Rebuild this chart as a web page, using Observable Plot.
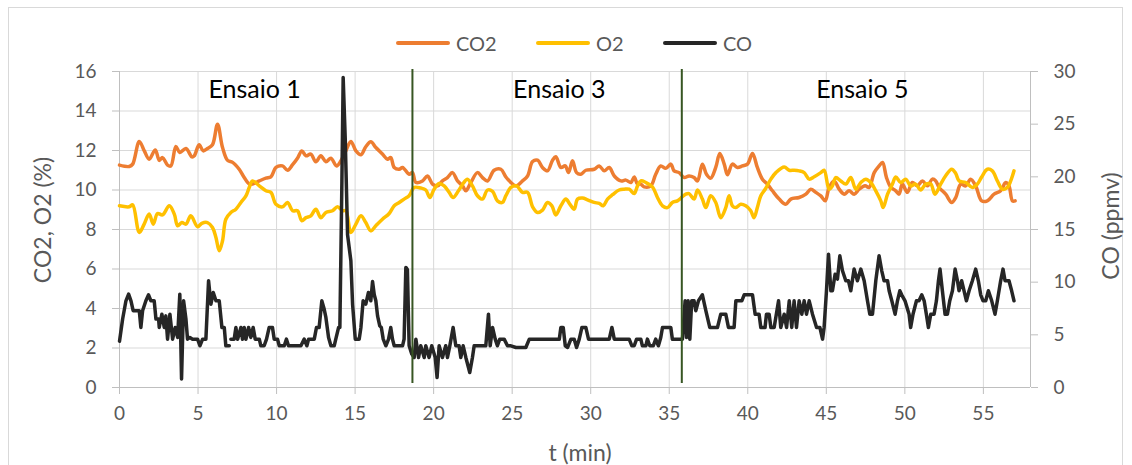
<!DOCTYPE html>
<html>
<head>
<meta charset="utf-8">
<script src="https://cdn.jsdelivr.net/npm/d3@7"></script>
<script src="https://cdn.jsdelivr.net/npm/@observablehq/plot@0.6"></script>
<style>
  html, body { margin: 0; padding: 0; background: #fff; }
  #wrap { position: relative; width: 1132px; height: 465px; overflow: hidden; font-family: Lato, "Open Sans", sans-serif; }
  #frame { position: absolute; left: 8px; top: 7px; width: 1115px; height: 480px; border: 1px solid #d9d9d9; box-sizing: border-box; }
  #chart { position: absolute; left: 0; top: 0; }
  .lg { position: absolute; top: 31px; height: 24px; display: flex; align-items: center; font-size: 20px; color: #595959; }
  .lg span.sw { display: inline-block; width: 54px; height: 4px; border-radius: 2px; margin-right: 6px; }
  .ttl { position: absolute; font-size: 23px; color: #595959; white-space: nowrap; }
</style>
</head>
<body>
<div id="wrap">
  <div id="frame"></div>
  <div id="chart"></div>
</div>
<script>
// ---- Data ----
const co2T = [0,0.62,0.84,1.26,1.58,1.89,2.28,2.53,2.74,3.06,3.27,3.59,3.84,4.23,4.61,4.76,5.07,5.33,5.6,5.92,6.24,6.56,6.88,7.2,7.62,7.94,8.26,8.47,8.9,9.32,9.64,9.96,10.38,10.7,11.02,11.33,11.61,11.87,12.18,12.5,12.82,13.14,13.46,13.82,14.09,14.41,14.73,15.05,15.37,15.68,16.0,16.32,16.74,17.06,17.27,17.49,17.81,18.02,18.44,18.65,18.87,19.29,19.61,19.93,20.25,20.56,20.88,21.2,21.52,21.84,22.05,22.37,22.79,23.11,23.43,23.85,24.28,24.6,24.92,25.24,25.66,25.98,26.3,26.62,26.93,27.25,27.57,27.78,28.1,28.38,28.59,28.84,29.1,29.37,29.69,30.22,30.54,30.86,31.18,31.5,31.92,32.24,32.56,32.77,32.98,33.19,33.4,33.83,34.14,34.46,34.78,35.1,35.31,35.63,35.95,36.26,36.58,36.8,37.11,37.37,37.64,37.96,38.22,38.5,38.71,39.02,39.34,39.66,39.98,40.3,40.61,40.93,41.25,41.57,42.0,42.42,42.74,43.27,43.7,44.01,44.33,44.65,44.93,45.18,45.5,45.82,46.14,46.45,46.77,47.09,47.47,47.73,48.05,48.36,48.58,48.83,49.11,49.42,49.63,49.84,50.16,50.48,50.8,51.12,51.44,51.75,51.97,52.18,52.6,52.98,53.24,53.56,53.88,54.19,54.51,54.89,55.25,55.68,56.1,56.42,56.63,56.85,57.02];
const co2V = [11.26,11.19,11.31,12.46,11.98,11.56,12.03,11.5,11.64,11.26,11.22,12.2,11.9,12.1,11.68,11.73,12.29,11.98,12.1,12.29,13.33,12.15,11.5,11.4,11.05,10.63,10.3,10.3,10.46,10.6,10.67,11.14,11.22,11.0,11.28,11.61,11.98,11.73,11.82,11.43,11.73,11.43,11.61,11.22,11.47,11.98,12.46,11.98,11.78,12.19,12.44,12.15,11.82,11.56,11.64,11.14,11.05,11.14,10.8,10.88,10.38,10.46,10.71,10.3,10.21,10.46,10.63,10.88,10.46,10.21,9.96,10.38,10.88,10.63,10.46,11.0,11.05,10.66,10.38,10.21,10.46,10.71,11.44,11.51,11.14,10.97,11.51,11.68,11.14,11.22,10.88,11.48,10.88,10.8,11.0,11.05,11.22,10.97,11.14,10.71,10.46,10.5,10.38,10.66,10.3,10.3,10.16,10.21,10.8,11.22,11.1,11.31,10.97,10.88,10.63,10.71,10.63,10.46,11.31,10.8,10.6,11.14,11.85,11.31,10.77,11.31,11.14,11.22,11.31,11.85,11.14,10.55,10.3,9.96,9.54,9.28,9.54,9.62,9.79,10.04,9.88,9.7,9.45,10.13,10.46,10.04,9.79,9.96,9.79,10.04,10.21,10.13,10.88,11.22,11.39,10.63,10.13,9.96,9.79,10.3,9.88,10.38,10.21,10.46,10.21,10.55,10.46,10.13,9.79,9.37,9.62,10.3,10.21,10.55,10.21,9.45,9.45,9.79,9.96,10.38,10.21,9.45,9.45];

const o2T = [0,0.62,0.84,1.26,1.57,1.89,2.15,2.42,2.74,3.17,3.49,3.7,3.97,4.23,4.54,4.97,5.24,5.6,5.92,6.14,6.35,6.56,6.77,7.09,7.41,7.73,8.05,8.26,8.47,8.9,9.32,9.64,9.96,10.38,10.7,11.02,11.33,11.61,11.87,12.18,12.5,12.82,13.14,13.56,13.88,14.2,14.41,14.73,15.05,15.37,15.68,16.0,16.32,16.74,17.17,17.49,17.81,18.12,18.44,18.76,19.18,19.5,19.76,20.03,20.35,20.67,20.99,21.24,21.58,21.88,22.15,22.47,22.79,23.11,23.43,23.75,24.06,24.38,24.6,24.92,25.28,25.66,25.98,26.3,26.62,26.93,27.25,27.53,27.78,28.1,28.42,28.67,28.95,29.16,29.48,29.8,30.22,30.54,30.8,31.07,31.39,31.81,32.13,32.45,32.77,32.98,33.19,33.51,33.93,34.25,34.57,34.89,35.2,35.52,35.84,36.05,36.26,36.58,36.8,37.11,37.33,37.64,37.96,38.28,38.6,38.81,39.02,39.24,39.55,39.87,40.19,40.4,40.61,40.83,41.12,41.47,41.79,42.32,42.64,42.95,43.27,43.59,43.91,44.23,44.65,44.86,45.18,45.39,45.6,45.92,46.24,46.56,46.88,47.2,47.52,47.83,48.15,48.47,48.62,48.9,49.21,49.42,49.74,50.06,50.37,50.69,51.01,51.33,51.65,51.92,52.28,52.6,52.98,53.24,53.45,53.88,54.3,54.62,54.89,55.25,55.57,55.89,56.21,56.53,56.74,56.95];
const o2V = [9.2,9.15,9.25,7.85,8.27,8.78,8.27,8.81,8.74,9.2,8.78,8.19,8.35,8.27,8.69,8.14,8.31,8.35,8.1,7.6,6.92,7.43,8.52,8.86,9.03,9.37,9.7,10.13,10.46,10.21,9.96,9.88,9.28,9.15,9.37,8.95,8.95,8.44,8.6,8.69,9.03,8.6,8.86,8.95,9.15,8.95,8.95,7.85,8.27,8.69,8.35,7.93,8.19,8.52,8.81,9.2,9.37,9.54,9.71,10.13,10.1,10.0,9.62,10.04,10.33,10.21,9.88,9.62,9.96,10.33,10.55,10.21,9.71,9.54,10.0,9.93,9.45,9.37,9.71,10.13,10.21,9.88,9.88,9.15,8.86,8.98,9.37,9.2,8.74,9.2,9.54,9.28,9.03,9.54,9.59,9.5,9.37,9.32,9.2,9.54,9.76,10.0,10.04,10.04,9.82,10.21,10.46,10.38,10.16,9.62,9.2,9.11,9.37,9.45,9.66,9.79,9.82,9.54,10.0,9.54,9.11,9.71,9.37,8.6,9.11,9.71,9.2,9.11,9.28,9.2,8.95,8.6,9.11,9.71,10.05,10.55,10.88,11.17,11.0,11.0,10.97,10.88,10.55,10.67,10.88,11.0,10.04,10.21,10.63,10.46,10.3,10.63,10.04,10.38,10.55,10.38,9.96,9.45,9.11,9.79,10.3,10.66,10.38,10.55,10.21,10.3,10.0,10.3,10.3,9.79,10.3,10.72,11.05,10.84,10.46,10.38,10.13,10.3,10.66,11.05,10.97,10.46,10.04,10.13,10.46,10.97];

const coT = [0,0.2,0.41,0.58,0.73,0.87,1.26,1.36,1.47,1.68,1.85,2.0,2.21,2.32,2.49,2.53,2.7,2.85,2.95,3.06,3.21,3.38,3.55,3.7,3.84,3.95,4.08,4.23,4.33,4.48,4.65,4.97,5.12,5.29,5.5,5.67,5.82,5.97,6.14,6.35,6.52,6.67,6.77,6.99,7.04,7.09,7.3,7.41,7.52,7.73,7.83,7.94,8.05,8.22,8.36,8.51,8.64,8.9,9.0,9.21,9.36,9.53,9.74,9.85,10.06,10.17,10.49,10.63,10.76,11.55,11.76,11.93,12.04,12.4,12.54,12.71,12.88,13.03,13.14,13.31,13.46,13.67,13.77,13.95,14.03,14.16,14.24,14.37,14.52,14.73,14.84,15.01,15.26,15.37,15.51,15.68,15.85,16.0,16.11,16.22,16.32,16.43,16.57,16.67,16.79,16.96,17.13,17.27,17.38,17.49,17.81,18.02,18.12,18.23,18.33,18.44,18.61,18.76,18.87,19.04,19.18,19.4,19.5,19.71,19.88,20.1,20.22,20.35,20.56,20.77,20.88,21.03,21.24,21.41,21.62,21.73,21.88,22.05,22.3,22.47,22.58,23.11,23.32,23.49,23.6,23.75,23.92,24.06,24.21,24.49,24.7,24.92,25.24,25.87,26.09,28.0,28.1,28.25,28.38,28.53,28.74,28.95,29.1,29.27,29.44,29.69,29.86,31.18,31.35,31.5,32.45,32.62,32.77,32.92,33.19,33.29,33.51,33.61,33.76,33.98,34.14,34.31,34.46,34.57,35.1,35.2,35.84,36.01,36.1,36.2,36.31,36.43,36.58,36.69,36.86,37.11,37.33,37.58,38.07,38.28,38.6,38.77,39.13,39.24,39.62,39.77,40.3,40.47,40.72,40.83,41.1,41.19,41.36,41.47,41.68,41.96,42.1,42.32,42.47,42.64,42.8,42.95,43.1,43.27,43.44,43.59,43.74,43.91,44.12,44.38,44.59,44.76,44.86,45.01,45.14,45.29,45.39,45.56,45.71,45.86,46.03,46.24,46.41,46.56,46.77,46.98,47.2,47.41,47.62,47.77,47.94,48.15,48.36,48.53,48.68,48.9,49.0,49.17,49.38,49.53,49.68,49.8,50.01,50.27,50.37,50.52,50.74,50.9,51.08,51.23,51.37,51.5,51.65,51.86,52.01,52.14,52.24,52.39,52.56,52.71,52.86,53.03,53.2,53.35,53.45,53.62,53.77,53.92,54.09,54.3,54.51,54.68,54.83,54.98,55.15,55.32,55.53,55.74,55.89,56.1,56.25,56.38,56.63,56.8,56.95];
const coV = [4.4,6.5,8.23,8.86,8.23,7.29,7.29,5.7,7.29,8.23,8.8,8.23,8.23,6.5,6.5,5.7,6.96,5.7,6.8,4.59,6.96,4.59,5.7,4.75,8.86,0.8,8.23,6.5,4.59,4.75,4.59,4.59,3.96,4.59,4.59,10.13,7.91,9.02,8.23,8.23,5.7,5.7,3.96,3.96,NaN,4.59,4.59,5.7,4.59,5.7,4.59,5.7,4.59,5.7,4.75,5.7,4.59,4.59,3.96,3.96,4.59,5.7,5.7,4.59,4.59,3.96,3.96,4.59,3.96,3.96,4.59,3.96,4.59,4.59,5.7,5.7,8.23,7.45,6.65,4.75,3.96,3.96,4.59,5.7,5.7,19.6,29.43,23.7,14.5,12.03,7.9,4.59,4.59,5.7,8.23,7.91,9.02,8.23,10.06,8.8,8.23,6.8,5.85,5.7,4.59,3.96,4.59,5.7,4.59,3.96,3.96,3.96,4.59,11.4,11.2,3.96,3.17,2.85,4.59,2.85,3.96,2.85,3.96,2.85,3.96,2.85,0.95,3.96,2.85,3.96,2.85,3.96,5.7,3.96,3.96,2.85,3.96,2.85,1.42,2.85,3.96,3.96,3.96,6.96,3.96,5.7,4.59,3.96,4.59,4.59,3.96,3.96,3.8,3.8,4.59,4.59,5.7,5.7,3.96,3.8,4.59,4.59,3.8,4.59,5.7,5.7,4.59,4.59,5.7,4.59,4.59,3.96,3.96,4.59,4.59,3.96,3.96,4.59,3.96,3.96,4.59,3.96,4.75,5.7,5.7,4.59,4.59,8.23,4.75,8.23,4.59,8.23,8.23,7.29,8.23,8.8,7.29,5.7,5.7,6.96,6.96,5.7,5.7,8.23,8.23,8.8,8.8,6.96,6.96,5.7,5.7,6.96,6.96,5.7,5.7,8.23,5.7,6.96,5.7,8.23,5.7,8.23,5.7,8.23,6.96,8.23,6.96,8.23,6.96,5.7,5.7,4.59,5.7,9.18,12.66,9.18,9.18,10.76,10.29,12.5,11.08,10.13,10.13,9.18,11.24,10.13,11.24,10.13,8.23,6.96,6.96,10.13,12.5,11.08,10.13,10.13,9.18,8.23,6.96,8.23,9.18,8.8,8.23,6.96,5.7,6.96,8.23,8.23,8.8,8.23,6.96,5.7,6.96,6.96,8.23,10.13,11.24,9.18,6.96,6.96,8.23,9.18,11.24,10.13,9.18,10.13,9.18,8.23,9.18,10.13,11.24,10.13,8.8,8.23,8.23,9.18,8.23,6.96,8.23,10.13,11.24,10.13,10.13,9.18,8.23];

const ensaioT = [8.6, 28.0, 47.3];
const ensaioLabels = ["Ensaio 1", "Ensaio 3", "Ensaio 5"];
const ensaioY = 15.07;
const dividers = [18.65, 35.8];

const xTicks = d3.range(0, 56, 5);
const leftTicks = d3.range(0, 17, 2);
const rightTicks = d3.range(0, 31, 5);

const X_MAX = 58, Y_MAX = 16, CO_MAX = 30;
const toLeft = v => v * Y_MAX / CO_MAX;

const co2 = co2T.map((t, i) => ({t, v: co2V[i]}));
const o2 = o2T.map((t, i) => ({t, v: o2V[i]}));
const co = coT.map((t, i) => ({t, v: coV[i]}));
const ensaio = ensaioT.map((t, i) => ({t, y: ensaioY, label: ensaioLabels[i]}));

const axisCol = "#bfbfbf", gridCol = "#d9d9d9", textCol = "#595959";

const chart = Plot.plot({
  width: 1132,
  height: 465,
  marginLeft: 119,
  marginRight: 102,
  marginTop: 71,
  marginBottom: 78,
  style: { fontFamily: "Lato, 'Open Sans', sans-serif", background: "transparent" },
  x: { domain: [0, X_MAX] },
  y: { domain: [0, Y_MAX] },
  marks: [
    Plot.gridY(leftTicks.filter(d => d > 0), { stroke: gridCol, strokeOpacity: 1 }),
    Plot.gridX(xTicks.filter(d => d > 0), { stroke: gridCol, strokeOpacity: 1 }),
    Plot.ruleY([0], { stroke: axisCol }),
    Plot.ruleX([0, X_MAX], { stroke: axisCol }),
    Plot.axisX(xTicks, { tickSize: 7, tickPadding: 12, fontSize: 19, stroke: axisCol, fill: textCol, label: null }),
    Plot.axisY(leftTicks, { anchor: "left", tickSize: 7, tickPadding: 16, fontSize: 19, stroke: axisCol, fill: textCol, label: null }),
    Plot.axisY(rightTicks.map(toLeft), { anchor: "right", tickSize: 7, tickPadding: 16, fontSize: 19, stroke: axisCol, fill: textCol, label: null, tickFormat: d => String(Math.round(d * CO_MAX / Y_MAX)) }),
    Plot.line(co2, { x: "t", y: "v", curve: "catmull-rom", stroke: "#ED7D31", strokeWidth: 3.5, strokeLinejoin: "round", strokeLinecap: "round" }),
    Plot.line(o2, { x: "t", y: "v", curve: "catmull-rom", stroke: "#FFC000", strokeWidth: 3.5, strokeLinejoin: "round", strokeLinecap: "round" }),
    Plot.line(co, { x: "t", y: d => toLeft(d.v), stroke: "#262626", strokeWidth: 3.5, strokeLinejoin: "round", strokeLinecap: "round" }),
    Plot.ruleX(dividers, { y1: 0.2, y2: Y_MAX + 0.1, stroke: "#375623", strokeWidth: 2 }),
    Plot.text(ensaio, { x: "t", y: "y", text: "label", fontSize: 25, fill: "#000" })
  ]
});
document.getElementById("chart").appendChild(chart);

// Legend and axis titles as HTML overlays
const wrap = document.getElementById("wrap");
const legendItems = [
  { name: "CO2", color: "#ED7D31", left: 396 },
  { name: "O2", color: "#FFC000", left: 536 },
  { name: "CO", color: "#262626", left: 663 }
];
for (const it of legendItems) {
  const d = document.createElement("div");
  d.className = "lg";
  d.style.left = it.left + "px";
  d.innerHTML = `<span class="sw" style="background:${it.color}"></span>${it.name}`;
  wrap.appendChild(d);
}
function title(text, cx, cy, rot) {
  const d = document.createElement("div");
  d.className = "ttl";
  d.textContent = text;
  d.style.left = cx + "px";
  d.style.top = cy + "px";
  d.style.transform = `translate(-50%, -50%)` + (rot ? ` rotate(${rot}deg)` : "");
  wrap.appendChild(d);
}
title("CO2, O2 (%)", 42, 220, -90);
title("CO (ppmv)", 1110, 226, -90);
title("t (min)", 580, 452, 0);
</script>
</body>
</html>
